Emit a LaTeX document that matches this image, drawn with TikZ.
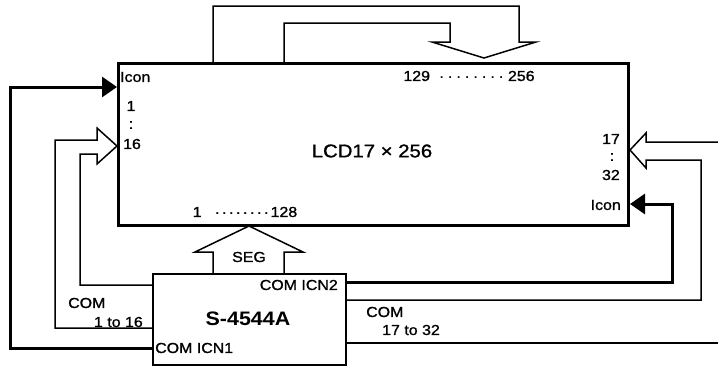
\documentclass[tikz,border=0pt]{standalone}
\usepackage{fontspec}
\setmainfont[FakeStretch=1.1]{Liberation Sans}
\newfontfamily\lblfont[FakeStretch=1.1,FakeBold=1.2]{Liberation Sans}
\usetikzlibrary{arrows.meta}
\newcommand\ptrow[2]{\leaders\hbox to #1{\hss·\hss}\hskip #2\relax}
\begin{document}
\begin{tikzpicture}[x=1pt,y=-1pt,
  thinline/.style={line width=1.5pt, line join=miter},
  thickline/.style={line width=3pt, line join=miter},
  bigtip/.style={-{Triangle[length=15pt,width=20pt]}},
  lbl/.style={inner sep=0pt, font=\lblfont\fontsize{14.5}{17}\selectfont}]
\useasboundingbox (0,0) rectangle (718,367);
% boxes
\node[draw, line width=3pt, minimum width=510pt, minimum height=162pt, inner sep=0pt, anchor=north west] (lcd) at (117,62) {};
\node[draw, line width=2pt, minimum width=193pt, minimum height=91pt, inner sep=0pt, anchor=north west] (chip) at (152,273) {};
% top bus arrow
\draw[thinline] (213,0 |- lcd.north) |- (519,6) -- (519,42) -- (536,42) -- (484,58) -- (432,42) -- (450,42) |- (284,23) -- (284,0 |- lcd.north);
% SEG arrow
\draw[thinline] (213,0 |- chip.north) -- (213,252) -- (195,252) -- (249,226) -- (303,252) -- (284,252) -- (284,0 |- chip.north);
% left icon line
\draw[thickline, bigtip] (chip.west |- 0,348) -| (10,87) -- (lcd.west |- 0,87);
% left COM arrow
\draw[thinline] (chip.west |- 0,328) -| (55,140) -- (97,140) -- (97,128) -- (lcd.west |- 0,146) -- (97,164) -- (97,154) -| (80,285) -- (chip.west |- 0,285);
% right COM arrow
\draw[thinline] (718,142) -- (646,142) -- (646,133) -- (lcd.east |- 0,150) -- (646,168) -- (646,160) -| (701,300) -- (chip.east |- 0,300);
\draw[thinline] (chip.east |- 0,343) -- (718,343);
% right icon line
\draw[thickline, bigtip] (chip.east |- 0,282) -| (672,204) -- (lcd.east |- 0,204);
% labels in LCD
\node[lbl, anchor=west] (iconl) at (120,77) {Icon};
\node[lbl] (n1) at (131,106) {1};
\node[lbl] (c1) at (131,125) {:};
\node[lbl] (n16) at (132,144) {16};
\node[inner sep=0pt, font=\lblfont\fontsize{18.5}{21}\selectfont] (title) at (372,151) {LCD17 × 256};
\node[lbl] (toprange) at (469,76) {129\ptrow{8.5pt}{78pt}256};
\node[lbl, anchor=east] (n17) at (620,139) {17};
\node[lbl] (c2) at (612,157) {:};
\node[lbl, anchor=east] (n32) at (620,175) {32};
\node[lbl, anchor=east] (iconr) at (621,205) {Icon};
\node[lbl] (botrange) at (245,212) {1\hspace{6pt}\ptrow{7pt}{63pt}128};
% labels around chip
\node[lbl] (seg) at (249,257) {SEG};
\node[lbl, anchor=east] (icn2) at (338,285) {COM ICN2};
\node[inner sep=0pt, font=\fontsize{19.5}{22}\selectfont\bfseries] (chipname) at (248,319) {S-4544A};
\node[lbl, anchor=west] (icn1) at (155,348) {COM ICN1};
\node[lbl, anchor=west] (coml) at (68,303) {COM};
\node[lbl, anchor=east] (coml2) at (143,322) {1 to 16};
\node[lbl, anchor=west] (comr) at (366,312) {COM};
\node[lbl, anchor=west] (comr2) at (382,330) {17 to 32};
\end{tikzpicture}
\end{document}
